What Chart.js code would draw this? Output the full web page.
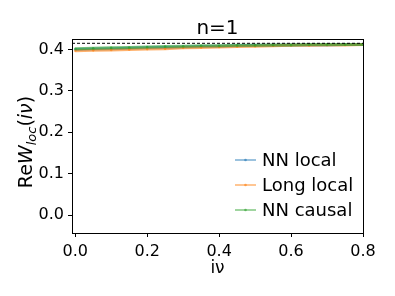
<!DOCTYPE html>
<html>
<head>
<meta charset="utf-8">
<script src="https://cdn.jsdelivr.net/npm/chart.js@4.4.0/dist/chart.umd.min.js"></script>
<style>
  html, body { margin: 0; padding: 0; background: #fff; }
  #wrap { width: 395px; height: 296px; position: relative; }
</style>
</head>
<body>
<div id="wrap"><canvas id="chart"></canvas></div>
<script>
// data
const nuValues = [0, 0.05, 0.1, 0.15, 0.2, 0.25, 0.3, 0.35, 0.4, 0.45, 0.5, 0.55, 0.6, 0.65, 0.7, 0.75, 0.8];
const nnLocal = [0.400, 0.401, 0.402, 0.403, 0.404, 0.405, 0.406, 0.407, 0.408, 0.409, 0.410, 0.410, 0.411, 0.411, 0.411, 0.412, 0.412];
const longLocal = [0.397, 0.398, 0.399, 0.400, 0.401, 0.402, 0.404, 0.405, 0.406, 0.407, 0.408, 0.409, 0.410, 0.410, 0.411, 0.411, 0.412];
const nnCausal = [0.402, 0.403, 0.404, 0.405, 0.406, 0.407, 0.408, 0.409, 0.409, 0.410, 0.410, 0.411, 0.411, 0.412, 0.412, 0.412, 0.412];
const refLevel = 0.415; // dashed reference line
const xTicks = [0, 0.2, 0.4, 0.6, 0.8];
const yTicks = [0, 0.1, 0.2, 0.3, 0.4];
const seriesNames = ['NN local', 'Long local', 'NN causal'];

const FONT = "'DejaVu Sans', sans-serif";

function toPoints(ys) {
    return nuValues.map((x, i) => ({ x: x, y: ys[i] }));
}

function series(label, ys, color, order) {
    return {
        label: label,
        data: toPoints(ys),
        borderColor: color,
        backgroundColor: color,
        borderWidth: 3,
        pointRadius: 1.3,
        pointBorderWidth: 0,
        tension: 0,
        fill: false,
        order: order // later matplotlib series end up on top
    };
}

// frame, title, axis labels and legend
const decorPlugin = {
    id: 'decor',
    afterDraw(chart) {
        const ctx = chart.ctx;
        const a = chart.chartArea;
        ctx.save();
        ctx.strokeStyle = '#000';
        ctx.lineWidth = 1;
        ctx.strokeRect(Math.round(a.left) + 0.5, Math.round(a.top) + 0.5,
            Math.round(a.right - a.left), Math.round(a.bottom - a.top));

        ctx.fillStyle = '#000';
        ctx.textAlign = 'center';
        ctx.textBaseline = 'alphabetic';
        ctx.font = '20px ' + FONT;
        ctx.fillText('n=1', (a.left + a.right) / 2, 34);

        ctx.font = '17px ' + FONT;
        ctx.textBaseline = 'middle';
        ctx.fillText('iν', (a.left + a.right) / 2, 269);

        // y label: Re W_loc (iν)
        ctx.translate(25, (a.top + a.bottom) / 2 + 6);
        ctx.rotate(-Math.PI / 2);
        const parts = [
            { t: 'Re', f: '19px ' + FONT, dy: 0 },
            { t: 'W', f: 'italic 19px ' + FONT, dy: 0 },
            { t: 'loc', f: 'italic 13px ' + FONT, dy: 4 },
            { t: '(', f: '19px ' + FONT, dy: 0 },
            { t: 'iν', f: 'italic 19px ' + FONT, dy: 0 },
            { t: ')', f: '19px ' + FONT, dy: 0 }
        ];
        let total = 0;
        parts.forEach(p => { ctx.font = p.f; p.w = ctx.measureText(p.t).width; total += p.w; });
        let x = -total / 2;
        ctx.textAlign = 'left';
        ctx.textBaseline = 'alphabetic';
        parts.forEach(p => {
            ctx.font = p.f;
            ctx.fillText(p.t, x, 7 + p.dy);
            x += p.w;
        });
        ctx.restore();

        // legend, lower right
        ctx.save();
        ctx.font = '18px ' + FONT;
        ctx.textBaseline = 'middle';
        ctx.textAlign = 'left';
        chart.data.datasets.slice(0, 3).forEach((ds, i) => {
            const y = 160 + i * 25;
            ctx.strokeStyle = ds.borderColor;
            ctx.lineWidth = 1.5;
            ctx.beginPath();
            ctx.moveTo(235, y);
            ctx.lineTo(256, y);
            ctx.stroke();
            ctx.fillStyle = ds.borderColor;
            ctx.beginPath();
            ctx.arc(245.5, y, 1.3, 0, Math.PI * 2);
            ctx.fill();
            ctx.fillStyle = '#000';
            ctx.fillText(ds.label, 262, y + 1);
        });
        ctx.restore();
    }
};

new Chart(document.getElementById('chart'), {
    type: 'line',
    data: {
        datasets: [
            series(seriesNames[0], nnLocal, 'rgba(31, 119, 180, 0.6)', 3),
            series(seriesNames[1], longLocal, 'rgba(255, 127, 14, 0.6)', 2),
            series(seriesNames[2], nnCausal, 'rgba(44, 160, 44, 0.6)', 1),
            {
                label: 'ref',
                data: [{ x: -0.009, y: refLevel }, { x: 0.8, y: refLevel }],
                borderColor: '#000',
                borderWidth: 1,
                borderDash: [3, 2],
                pointRadius: 0,
                fill: false,
                order: 0
            }
        ]
    },
    plugins: [decorPlugin],
    options: {
        responsive: true,
        maintainAspectRatio: false,
        animation: false,
        layout: { padding: { top: 39, right: 32, left: 0, bottom: 0 } },
        scales: {
            x: {
                type: 'linear',
                min: -0.009,
                max: 0.8,
                afterBuildTicks: s => { s.ticks = xTicks.map(v => ({ value: v })); },
                afterFit: s => { s.height = 63; },
                grid: { drawOnChartArea: false, drawTicks: true, tickLength: 4, color: '#000' },
                border: { display: true, color: '#000' },
                ticks: {
                    color: '#000',
                    padding: 5,
                    maxRotation: 0,
                    font: { family: FONT, size: 16 },
                    callback: v => v.toFixed(1)
                }
            },
            y: {
                type: 'linear',
                min: -0.0435,
                max: 0.4254,
                afterBuildTicks: s => { s.ticks = yTicks.map(v => ({ value: v })); },
                afterFit: s => { s.width = 72; },
                grid: { drawOnChartArea: false, drawTicks: true, tickLength: 4, color: '#000' },
                border: { display: true, color: '#000' },
                ticks: {
                    color: '#000',
                    padding: 4,
                    font: { family: FONT, size: 16 },
                    callback: v => v.toFixed(1)
                }
            }
        },
        plugins: {
            legend: { display: false },
            title: { display: false },
            tooltip: { enabled: false }
        }
    }
});
</script>
</body>
</html>
